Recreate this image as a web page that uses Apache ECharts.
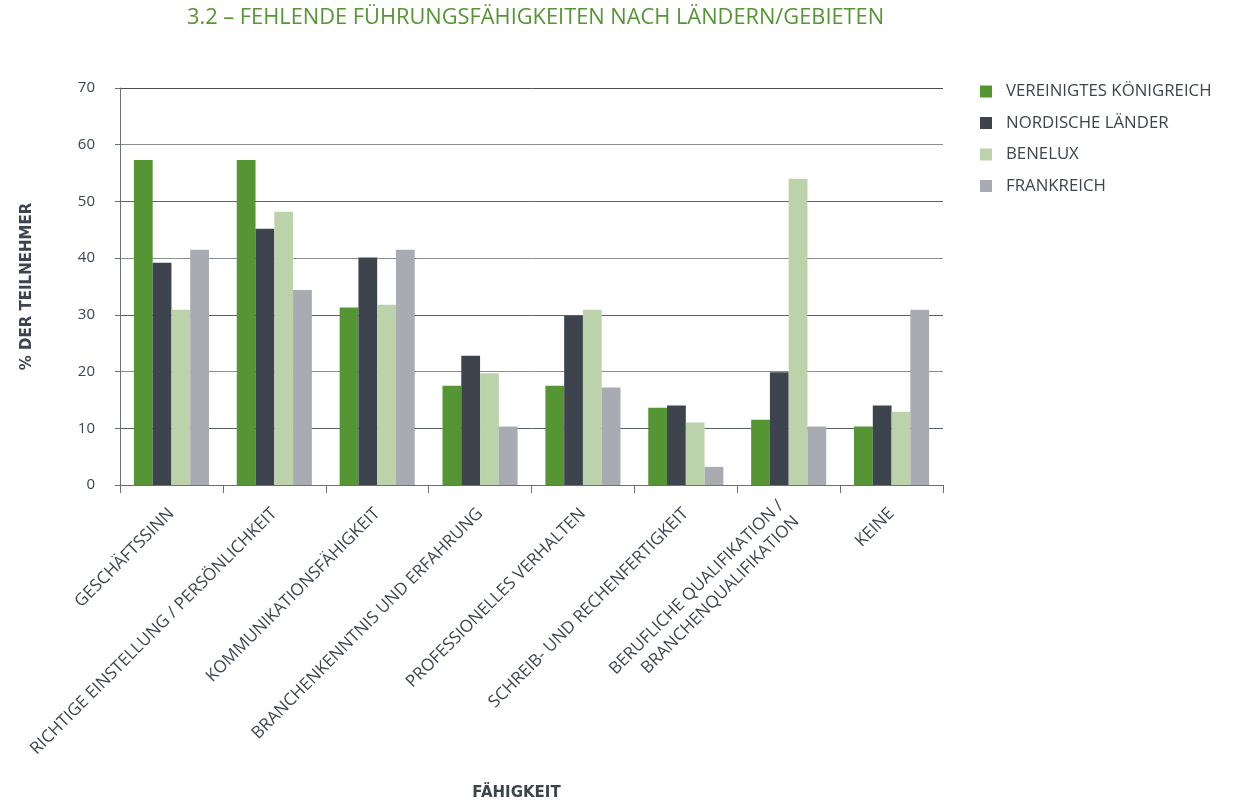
<!DOCTYPE html>
<html>
<head>
<meta charset="utf-8">
<script src="https://cdn.jsdelivr.net/npm/echarts@6/dist/echarts.min.js"></script>
<style>
html,body{margin:0;padding:0;background:#fff;}
#chart{width:1236px;height:803px;}
</style>
</head>
<body>
<div id="chart"></div>
<script>
const categories = [
  'GESCHÄFTSSINN',
  'RICHTIGE EINSTELLUNG / PERSÖNLICHKEIT',
  'KOMMUNIKATIONSFÄHIGKEIT',
  'BRANCHENKENNTNIS UND ERFAHRUNG',
  'PROFESSIONELLES VERHALTEN',
  'SCHREIB- UND RECHENFERTIGKEIT',
  'BERUFLICHE QUALIFIKATION /\nBRANCHENQUALIFIKATION',
  'KEINE'
];
const seriesNames = ['VEREINIGTES KÖNIGREICH', 'NORDISCHE LÄNDER', 'BENELUX', 'FRANKREICH'];
const uk      = [57.3, 57.3, 31.3, 17.5, 17.5, 13.6, 11.5, 10.3];
const nordic  = [39.2, 45.2, 40.1, 22.8, 29.8, 14.0, 19.9, 14.0];
const benelux = [30.9, 48.2, 31.8, 19.7, 30.9, 11.0, 54.0, 12.9];
const france  = [41.5, 34.4, 41.5, 10.3, 17.2, 3.2, 10.3, 30.9];
const colors = ['#559534', '#3d444e', '#bcd2aa', '#a8abb2'];

const font = '"Open Sans", "Noto Sans", sans-serif';
const boldFont = '"DejaVu Sans", sans-serif';
const chart = echarts.init(document.getElementById('chart'));
const data = [uk, nordic, benelux, france];
chart.setOption({
  animation: false,
  title: {
    text: '3.2 – FEHLENDE FÜHRUNGSFÄHIGKEITEN NACH LÄNDERN/GEBIETEN',
    left: 187, top: 7, padding: 0,
    textStyle: { color: '#559534', fontSize: 21.8, fontWeight: 'normal', fontFamily: font }
  },
  legend: {
    orient: 'vertical', left: 975, top: 78,
    itemWidth: 12, itemHeight: 12, itemGap: 14.5,
    icon: 'rect',
    textStyle: { color: '#3d444e', fontSize: 16.8, fontFamily: font, padding: [0, 0, 0, 9] },
    data: seriesNames
  },
  grid: { left: 120, right: 293, top: 88, bottom: 318 },
  xAxis: {
    type: 'category', data: categories,
    name: 'FÄHIGKEIT', nameLocation: 'middle', nameGap: 301,
    nameTextStyle: { color: '#3d444e', fontSize: 15, fontWeight: 'bold', fontFamily: boldFont, padding: [0, 30, 0, 0] },
    axisLine: { lineStyle: { color: '#6b6f76', width: 1 } },
    axisTick: { show: true, length: 8, lineStyle: { color: '#6b6f76' } },
    axisLabel: { rotate: 45, interval: 0, margin: 26, color: '#3d444e', fontSize: 17, fontFamily: font, lineHeight: 22 }
  },
  yAxis: {
    type: 'value', min: 0, max: 70, interval: 10,
    name: '% DER TEILNEHMER', nameLocation: 'middle', nameGap: 85, nameRotate: 90,
    nameTextStyle: { color: '#3d444e', fontSize: 15, fontWeight: 'bold', fontFamily: boldFont },
    axisLine: { show: true, lineStyle: { color: '#6b6f76', width: 1 } },
    axisTick: { show: true, length: 5, lineStyle: { color: '#6b6f76' } },
    axisLabel: { color: '#3d444e', fontSize: 15, fontFamily: font, margin: 25 },
    splitLine: { lineStyle: { color: ['#5c6068', '#5c6068', '#8a8d93', '#5c6068', '#8a8d93', '#5c6068', '#8a8d93', '#4a4f58'], width: 1 } }
  },
  series: data.map((d, i) => ({
    name: seriesNames[i], type: 'bar', data: d,
    barGap: '0%', barCategoryGap: '27%',
    itemStyle: { color: colors[i] }
  }))
});
</script>
</body>
</html>
